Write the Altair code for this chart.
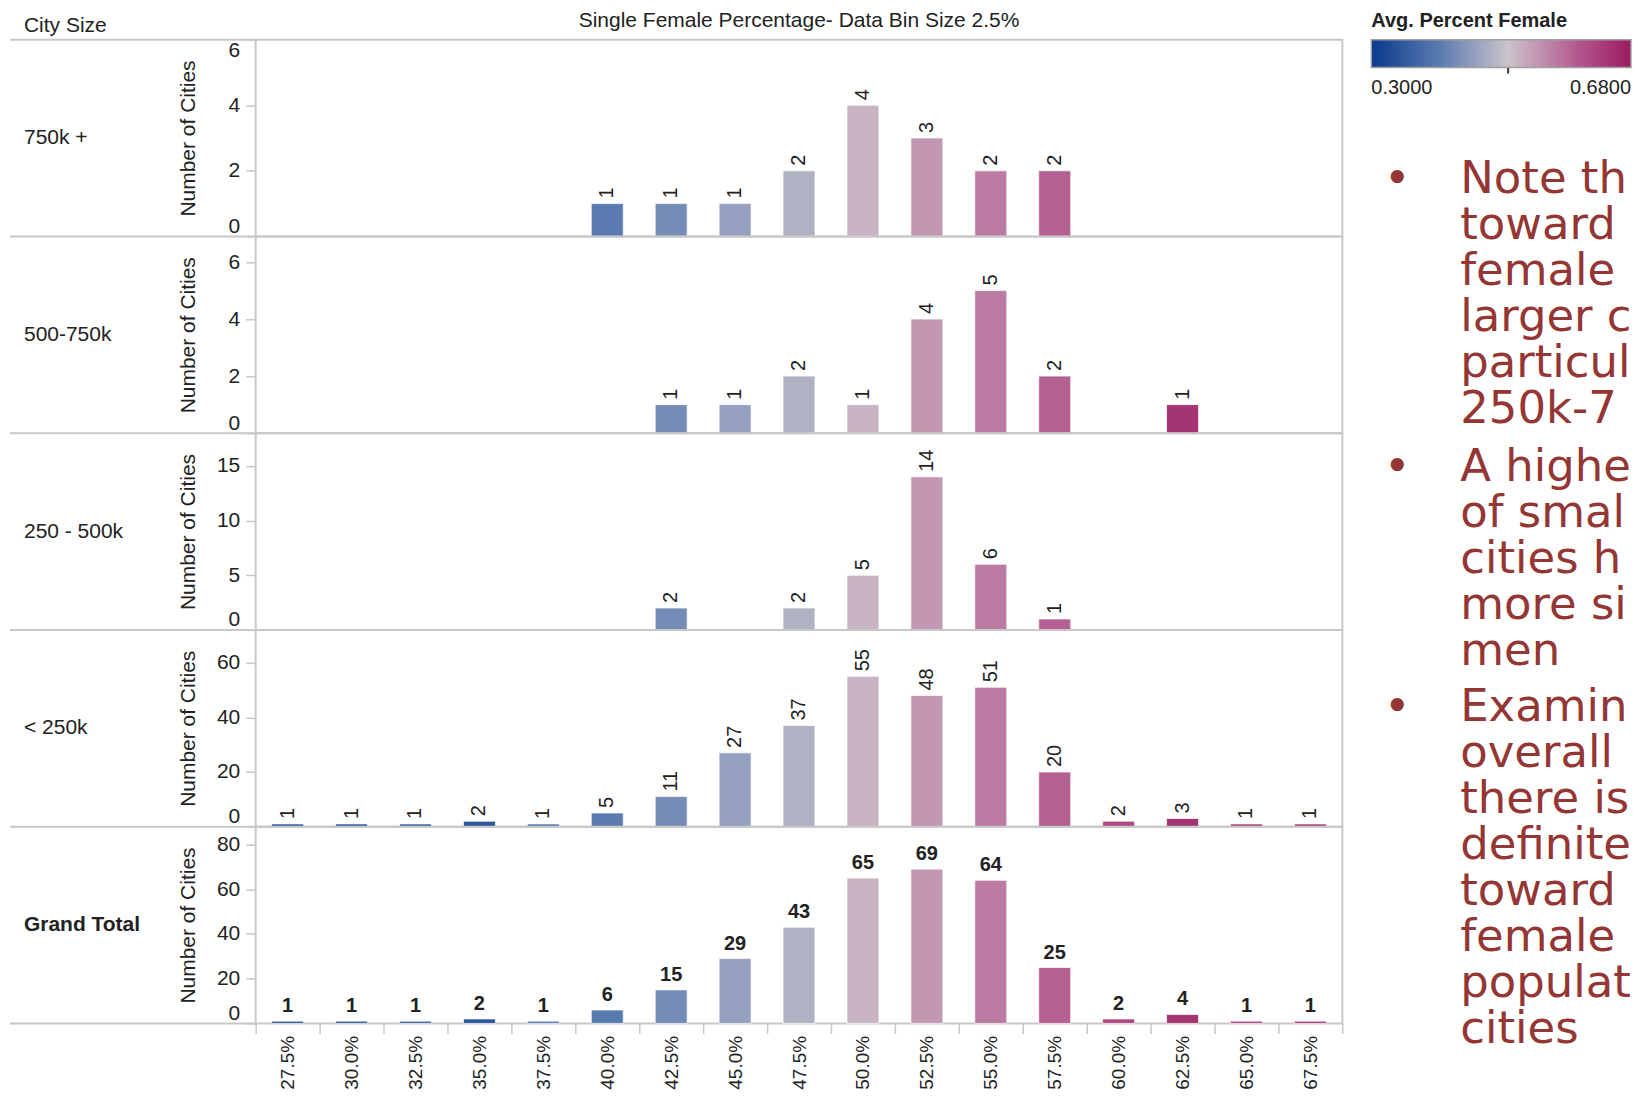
import altair as alt
import pandas as pd

# ---------------- data ----------------
bins = ["27.5%", "30.0%", "32.5%", "35.0%", "37.5%", "40.0%", "42.5%", "45.0%", "47.5%",
        "50.0%", "52.5%", "55.0%", "57.5%", "60.0%", "62.5%", "65.0%", "67.5%"]
avg_female = [0.345, 0.348, 0.360, 0.345, 0.394, 0.400, 0.424, 0.452, 0.476,
              0.514, 0.542, 0.569, 0.594, 0.622, 0.647, 0.634, 0.640]
row_names = ["750k +", "500-750k", "250 - 500k", "< 250k", "Grand Total"]
counts_750k_plus = [0, 0, 0, 0, 0, 1, 1, 1, 2, 4, 3, 2, 2, 0, 0, 0, 0]
counts_500_750k = [0, 0, 0, 0, 0, 0, 1, 1, 2, 1, 4, 5, 2, 0, 1, 0, 0]
counts_250_500k = [0, 0, 0, 0, 0, 0, 2, 0, 2, 5, 14, 6, 1, 0, 0, 0, 0]
counts_under_250k = [1, 1, 1, 2, 1, 5, 11, 27, 37, 55, 48, 51, 20, 2, 3, 1, 1]
counts_grand_total = [1, 1, 1, 2, 1, 6, 15, 29, 43, 65, 69, 64, 25, 2, 4, 1, 1]
row_counts = [counts_750k_plus, counts_500_750k, counts_250_500k, counts_under_250k, counts_grand_total]
y_max = [6, 6.9, 18, 72, 88]
y_ticks = [[0, 2, 4, 6], [0, 2, 4, 6], [0, 5, 10, 15], [0, 20, 40, 60], [0, 20, 40, 60, 80]]

chart_title = "Single Female Percentage- Data Bin Size 2.5%"
header_label = "City Size"
y_title = "Number of Cities"
legend_title = "Avg. Percent Female"
legend_values = [0.30, 0.68]
note_bullets = [
    ["Note the", "toward", "female", "larger c", "particul", "250k-75"],
    ["A highe", "of smal", "cities ha", "more si", "men"],
    ["Examin", "overall", "there is", "definite", "towards", "female", "populat", "cities"],
]

# ---------------- style ----------------
W, H = 1088, 197
FONT = "Liberation Sans"
NOTE_FONT = "DejaVu Sans"
GRID = "#c8c8c8"
INK = "#222222"
NOTE = "#943634"

color_scale = alt.Scale(domain=[0.30, 0.40, 0.50, 0.60, 0.68],
                        range=["#0a3a8c", "#5a7bb0", "#cbc3ca", "#b45a90", "#991a5d"],
                        interpolate="rgb")
legend = alt.Legend(title=legend_title, orient="none", legendX=1117, legendY=-29,
                    direction="horizontal", gradientLength=260, gradientThickness=28,
                    values=legend_values, format=".4f", titleLimit=400,
                    titleFont=FONT, titleFontSize=20, titleFontWeight="bold", titleColor=INK,
                    titlePadding=9, labelFont=FONT, labelFontSize=20, labelColor=INK,
                    labelOffset=10, gradientStrokeColor="#a0a0a0", gradientStrokeWidth=1.5)

rows = []
n_rows = len(row_names)
for i, (name, counts) in enumerate(zip(row_names, row_counts)):
    last = i == n_rows - 1
    df = pd.DataFrame({"bin": bins, "count": counts, "avg": avg_female})
    df = df[df["count"] > 0]
    if last:
        x_axis = alt.Axis(title=None, labelAngle=270, labelFontSize=19, labelFont=FONT,
                          labelColor=INK, labelPadding=2, tickBand="extent", tickSize=10,
                          tickColor=GRID, tickWidth=1.5, domain=False, grid=False)
    else:
        x_axis = None
    x = alt.X("bin:O", sort=bins, scale=alt.Scale(domain=bins, paddingInner=0, paddingOuter=0),
              axis=x_axis)
    y = alt.Y("count:Q", scale=alt.Scale(domain=[0, y_max[i]], nice=False),
              axis=alt.Axis(title=y_title, values=y_ticks[i], labelFlush=True, grid=False,
                            domain=False, tickColor=GRID, tickSize=10, tickWidth=1.5,
                            labelPadding=6, labelFontSize=21, labelFont=FONT, labelColor=INK,
                            titleFont=FONT, titleFontSize=21, titleFontWeight="normal",
                            titleColor=INK, titleAngle=270, titleX=-61, titleY=H / 2,
                            titleBaseline="alphabetic", titleAlign="center"))
    base = alt.Chart(df).encode(x=x, y=y)
    bars = base.mark_bar(size=32, stroke="#ffffff", strokeWidth=1, strokeOpacity=0.7).encode(
        color=alt.Color("avg:Q", scale=color_scale, legend=legend))
    if last:
        labels = base.mark_text(align="center", baseline="alphabetic", dy=-9, font=FONT,
                                fontSize=20, fontWeight="bold", color=INK).encode(text="count:Q")
    else:
        labels = base.mark_text(angle=270, align="left", baseline="middle", dx=5, font=FONT,
                                fontSize=20, color=INK).encode(text="count:Q")

    name_df = pd.DataFrame({"t": [name]})
    name_text = alt.Chart(name_df).mark_text(
        align="left", baseline="middle", font=FONT, fontSize=21,
        fontWeight="bold" if last else "normal", color=INK
    ).encode(text="t:N", x=alt.value(-232), y=alt.value(H / 2))
    top_rule = alt.Chart(name_df).mark_rule(color=GRID, strokeWidth=2).encode(
        x=alt.value(-246), x2=alt.value(0), y=alt.value(0))
    layers = [top_rule, bars, labels, name_text]
    if last:
        layers.append(alt.Chart(name_df).mark_rule(color=GRID, strokeWidth=2).encode(
            x=alt.value(-246), x2=alt.value(0), y=alt.value(H)))
    if i == 0:
        hdr = pd.DataFrame({"t": [header_label]})
        layers.append(alt.Chart(hdr).mark_text(align="left", baseline="alphabetic", font=FONT,
                                               fontSize=21, color=INK).encode(
            text="t:N", x=alt.value(-232), y=alt.value(-7.7)))
        ttl = pd.DataFrame({"t": [chart_title]})
        layers.append(alt.Chart(ttl).mark_text(align="center", baseline="alphabetic", font=FONT,
                                               fontSize=21, color=INK).encode(
            text="t:N", x=alt.value(W / 2), y=alt.value(-12.7)))
        layers.append(alt.Chart(hdr).mark_rule(color="#333333", strokeWidth=2).encode(
            x=alt.value(1254), y=alt.value(25), y2=alt.value(34)))
        for lines, yv in zip(note_bullets, [154, 442.3, 682.3]):
            nd = pd.DataFrame({"t": ["\n".join(lines)]})
            layers.append(alt.Chart(nd).mark_text(
                align="left", baseline="alphabetic", font=NOTE_FONT, fontSize=45,
                lineHeight=46, lineBreak="\n", color=NOTE, limit=173, ellipsis="\u200b"
            ).encode(text="t:N", x=alt.value(1206), y=alt.value(yv)))
            bd = pd.DataFrame({"t": ["\u2022"]})
            layers.append(alt.Chart(bd).mark_text(
                align="center", baseline="alphabetic", font=NOTE_FONT, fontSize=45, color=NOTE
            ).encode(text="t:N", x=alt.value(1143), y=alt.value(yv)))
    rows.append(alt.layer(*layers).properties(width=W, height=H))

chart = (
    alt.vconcat(*rows, spacing=0, bounds="flush")
    .resolve_scale(color="shared")
    .properties(padding={"left": 0, "top": 0, "right": 0, "bottom": -1})
    .configure(font=FONT)
    .configure_view(stroke=GRID, strokeWidth=2)
)

chart.save("out.html", embed_options={"renderer": "svg", "actions": False})
